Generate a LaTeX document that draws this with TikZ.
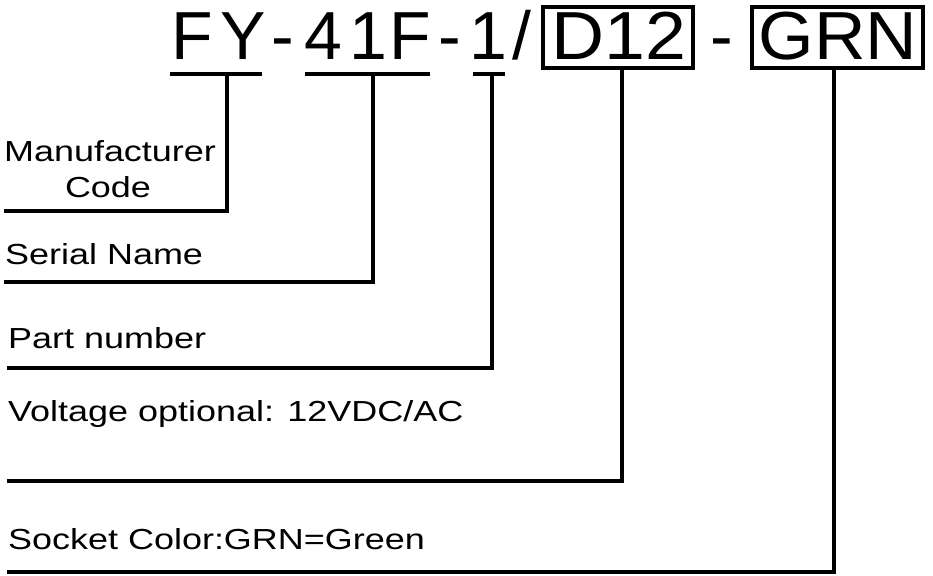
\documentclass[tikz,border=0pt]{standalone}
\usepackage{fontspec}
\setmainfont{Liberation Sans}
\newcommand{\wid}[1]{\scalebox{1.24}[1]{#1}}
\begin{document}
\begin{tikzpicture}[x=1pt,y=-1pt,
  big/.style={font=\fontsize{68}{68}\selectfont,inner sep=0pt,anchor=base},
  lbl/.style={font=\fontsize{29}{31}\selectfont,inner sep=0pt,anchor=base west},
  ln/.style={line width=3.5pt}]
\useasboundingbox (0,0) rectangle (933,575);
\node[big] (f) at (192,60) {F};
\node[big] (y) at (243,60) {Y};
\node[big] (d1) at (283,60) {-};
\node[big] (n4) at (323,60) {4};
\node[big] (n1) at (368,60) {1};
\node[big] (ff) at (410,60) {F};
\node[big] (d2) at (450,60) {-};
\node[big] (o1) at (488,60) {1};
\node[big] (sl) at (522,60) {/};
\node[big] (D) at (619,60) {\scalebox{1.08}[1]{D12}};
\node[big] (d3) at (722,60) {-};
\node[big] (G) at (838,60) {\scalebox{1.05}[1]{GRN}};
\draw[ln] (543,7) rectangle (693,68);
\draw[ln] (752,7) rectangle (923,68);
\draw[ln] (170,74) -- (262,74);
\draw[ln] (305,74) -- (430,74);
\draw[ln] (473,74) -- (505,74);
\coordinate (a0) at (227,74); \coordinate (a1) at (227,211); \coordinate (a2) at (4,211);
\coordinate (b0) at (373,74); \coordinate (b1) at (373,282); \coordinate (b2) at (4,282);
\coordinate (c0) at (492,74); \coordinate (c1) at (492,368); \coordinate (c2) at (7,368);
\coordinate (e0) at (622,68); \coordinate (e1) at (622,481); \coordinate (e2) at (7,481);
\coordinate (g0) at (834,68); \coordinate (g1) at (834,572); \coordinate (g2) at (7,572);
\draw[ln] (a0) -- (a1) -- (a2);
\draw[ln] (b0) -- (b1) -- (b2);
\draw[ln] (c0) -- (c1) -- (c2);
\draw[ln] (e0) -- (e1) -- (e2);
\draw[ln] (g0) -- (g1) -- (g2);
\node[lbl,anchor=base] (m) at (110,161) {\wid{Manufacturer}};
\node[lbl,anchor=base] (cd) at (108,197) {\wid{Code}};
\node[lbl] (s) at (5,264) {\wid{Serial Name}};
\node[lbl] (p) at (8,348) {\wid{Part number}};
\node[lbl] (v) at (8,421) {\wid{Voltage optional: 12VDC/AC}};
\node[lbl] (sc) at (8,549) {\wid{Socket Color:GRN=Green}};
\end{tikzpicture}
\end{document}
